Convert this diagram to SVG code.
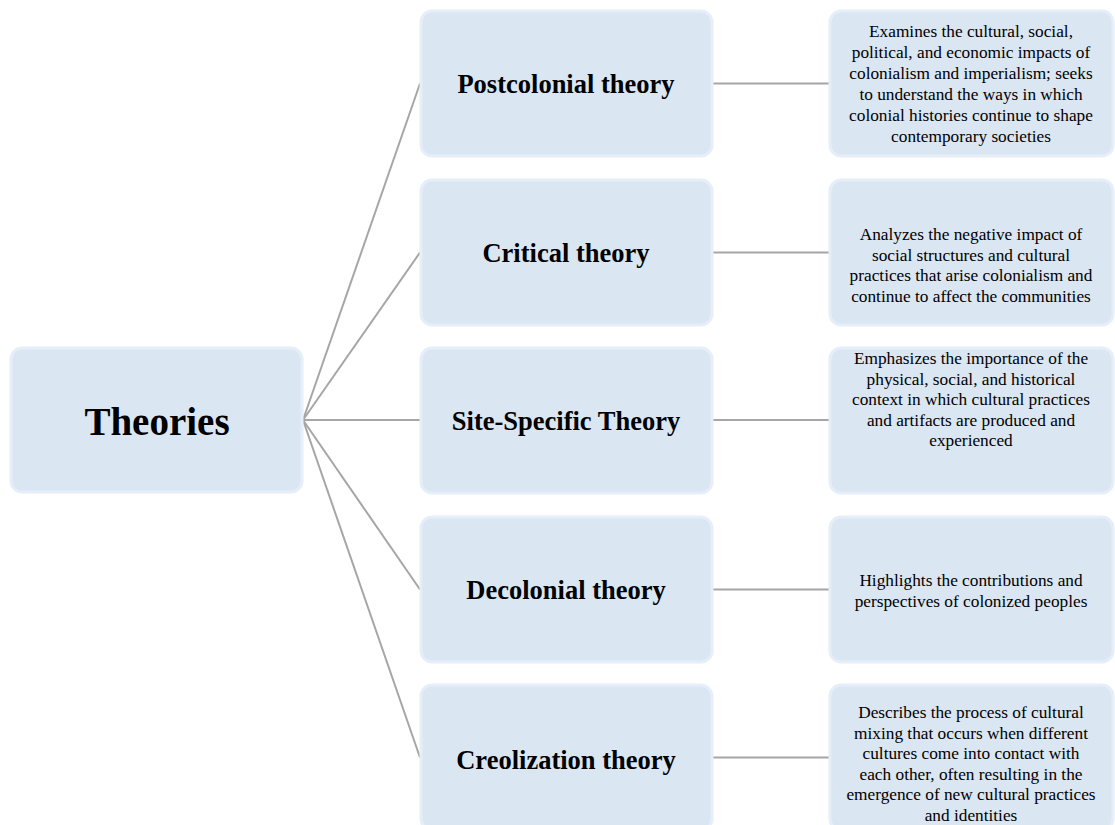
<svg xmlns="http://www.w3.org/2000/svg" width="1115" height="825" viewBox="0 0 1115 825">
<defs>
<style>
.box{fill:#dbe6f3;stroke:#e6eef9;stroke-width:3}
.conn{stroke:#a6a6a6;stroke-width:2;fill:none}
.title{font-family:"Liberation Serif","Times New Roman",serif;font-weight:bold;font-size:39px;fill:#000;text-anchor:middle}
.lbl{font-family:"Liberation Serif","Times New Roman",serif;font-weight:bold;font-size:26.5px;fill:#000;text-anchor:middle}
.desc{font-family:"Liberation Serif","Times New Roman",serif;font-size:17.3px;fill:#000;text-anchor:middle}
</style>
</defs>
<rect width="1115" height="825" fill="#ffffff"/>
<g id="connectors">
<line class="conn" x1="303" y1="420" x2="420" y2="83.5"/>
<line class="conn" x1="303" y1="420" x2="420" y2="252.5"/>
<line class="conn" x1="303" y1="420" x2="420" y2="420"/>
<line class="conn" x1="303" y1="420" x2="420" y2="589.5"/>
<line class="conn" x1="303" y1="420" x2="420" y2="757.5"/>
<line class="conn" x1="713" y1="83.5" x2="829" y2="83.5"/>
<line class="conn" x1="713" y1="252.5" x2="829" y2="252.5"/>
<line class="conn" x1="713" y1="420" x2="829" y2="420"/>
<line class="conn" x1="713" y1="589.5" x2="829" y2="589.5"/>
<line class="conn" x1="713" y1="757.5" x2="829" y2="757.5"/>
</g>
<g id="theories">
<rect class="box" x="11" y="348" width="291" height="144" rx="11"/>
<text class="title" x="157" y="435">Theories</text>
</g>
<g id="postcolonial">
<rect class="box" x="421" y="11" width="291" height="145" rx="11"/>
<text class="lbl" x="566" y="93">Postcolonial theory</text>
</g>
<g id="critical">
<rect class="box" x="421" y="180" width="291" height="145" rx="11"/>
<text class="lbl" x="566" y="262">Critical theory</text>
</g>
<g id="site">
<rect class="box" x="421" y="348" width="291" height="145" rx="11"/>
<text class="lbl" x="566" y="430">Site-Specific Theory</text>
</g>
<g id="decolonial">
<rect class="box" x="421" y="517" width="291" height="145" rx="11"/>
<text class="lbl" x="566" y="599">Decolonial theory</text>
</g>
<g id="creolization">
<rect class="box" x="421" y="685" width="291" height="145" rx="11"/>
<text class="lbl" x="566" y="769">Creolization theory</text>
</g>
<g id="postcolonial-desc">
<rect class="box" x="830" y="11" width="283" height="145" rx="11"/>
<text class="desc" x="971" y="37">Examines the cultural, social,</text>
<text class="desc" x="971" y="58">political, and economic impacts of</text>
<text class="desc" x="971" y="79">colonialism and imperialism; seeks</text>
<text class="desc" x="971" y="100">to understand the ways in which</text>
<text class="desc" x="971" y="121">colonial histories continue to shape</text>
<text class="desc" x="971" y="142">contemporary societies</text>
</g>
<g id="critical-desc">
<rect class="box" x="830" y="180" width="283" height="145" rx="11"/>
<text class="desc" x="971" y="240">Analyzes the negative impact of</text>
<text class="desc" x="971" y="260.5">social structures and cultural</text>
<text class="desc" x="971" y="281">practices that arise colonialism and</text>
<text class="desc" x="971" y="301.5">continue to affect the communities</text>
</g>
<g id="site-desc">
<rect class="box" x="830" y="348" width="283" height="145" rx="11"/>
<text class="desc" x="971" y="364">Emphasizes the importance of the</text>
<text class="desc" x="971" y="384.5">physical, social, and historical</text>
<text class="desc" x="971" y="405">context in which cultural practices</text>
<text class="desc" x="971" y="425.5">and artifacts are produced and</text>
<text class="desc" x="971" y="446">experienced</text>
</g>
<g id="decolonial-desc">
<rect class="box" x="830" y="517" width="283" height="145" rx="11"/>
<text class="desc" x="971" y="586">Highlights the contributions and</text>
<text class="desc" x="971" y="606.5">perspectives of colonized peoples</text>
</g>
<g id="creolization-desc">
<rect class="box" x="830" y="685" width="283" height="145" rx="11"/>
<text class="desc" x="971" y="718">Describes the process of cultural</text>
<text class="desc" x="971" y="738.5">mixing that occurs when different</text>
<text class="desc" x="971" y="759">cultures come into contact with</text>
<text class="desc" x="971" y="779.5">each other, often resulting in the</text>
<text class="desc" x="971" y="800">emergence of new cultural practices</text>
<text class="desc" x="971" y="820.5">and identities</text>
</g>
</svg>
